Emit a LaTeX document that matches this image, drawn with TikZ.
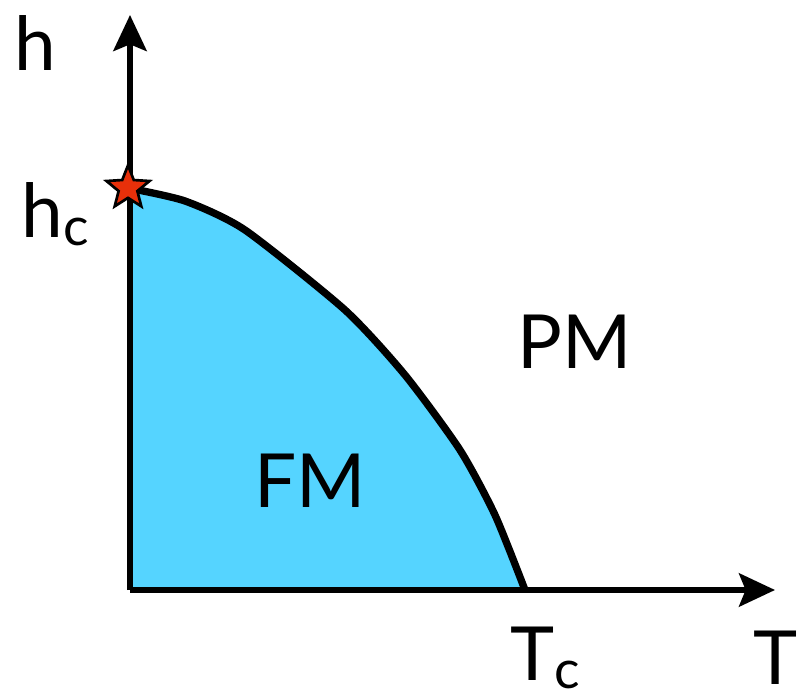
\documentclass[tikz,border=0pt]{standalone}
\usepackage{fontspec}
\setmainfont{Lato}
\usepackage{xcolor}
\usetikzlibrary{arrows.meta,shapes.geometric}

\definecolor{fmblue}{HTML}{55D4FF}
\definecolor{starred}{HTML}{E8300A}

\tikzset{
  axis/.style={line width=4pt, -{Stealth[length=27, width=25, inset=5]}},
  border/.style={line width=5.5pt, line join=round},
  lbl/.style={font=\fontsize{56}{60}\selectfont, inner sep=0pt},
}

\begin{document}
\begin{tikzpicture}[x=0.75pt, y=-0.75pt]
\useasboundingbox (0,0) rectangle (800,699);
\coordinate (origin) at (130,590);
\coordinate (ytip) at (130,15);
\coordinate (xtip) at (775,590);
\coordinate (hc) at (128,188);
\coordinate (Tc) at (525,590);
% ferromagnetic region
\fill[fmblue] (origin) -- plot[smooth, tension=0.4] coordinates {(hc) (185,201) (245,230) (345,310) (405,375) (460,450) (495,515) (Tc)} -- cycle;
% axes
\draw[axis] (origin) -- (ytip);
\draw[axis] (origin) -- (xtip);
% phase boundary
\draw[border] plot[smooth, tension=0.4] coordinates {(hc) (185,201) (245,230) (345,310) (405,375) (460,450) (495,515) (Tc)};
\node[star, star points=5, star point ratio=2.3, minimum size=34, draw=black, line width=2pt, fill=starred, inner sep=0pt] (qcp) at (hc) {};
% labels
\node[lbl] (hlab) at (35,43) {h};
\node[lbl] (hclab) at (55,214) {h\raisebox{-0.1em}{\fontsize{40}{44}\selectfont c}};
\node[lbl] (pm) at (575,342) {PM};
\node[lbl] (fm) at (310,481) {FM};
\node[lbl] (tclab) at (545,658) {T\raisebox{-0.1em}{\fontsize{40}{44}\selectfont c}};
\node[lbl] (tlab) at (776,658) {T};
\end{tikzpicture}
\end{document}
